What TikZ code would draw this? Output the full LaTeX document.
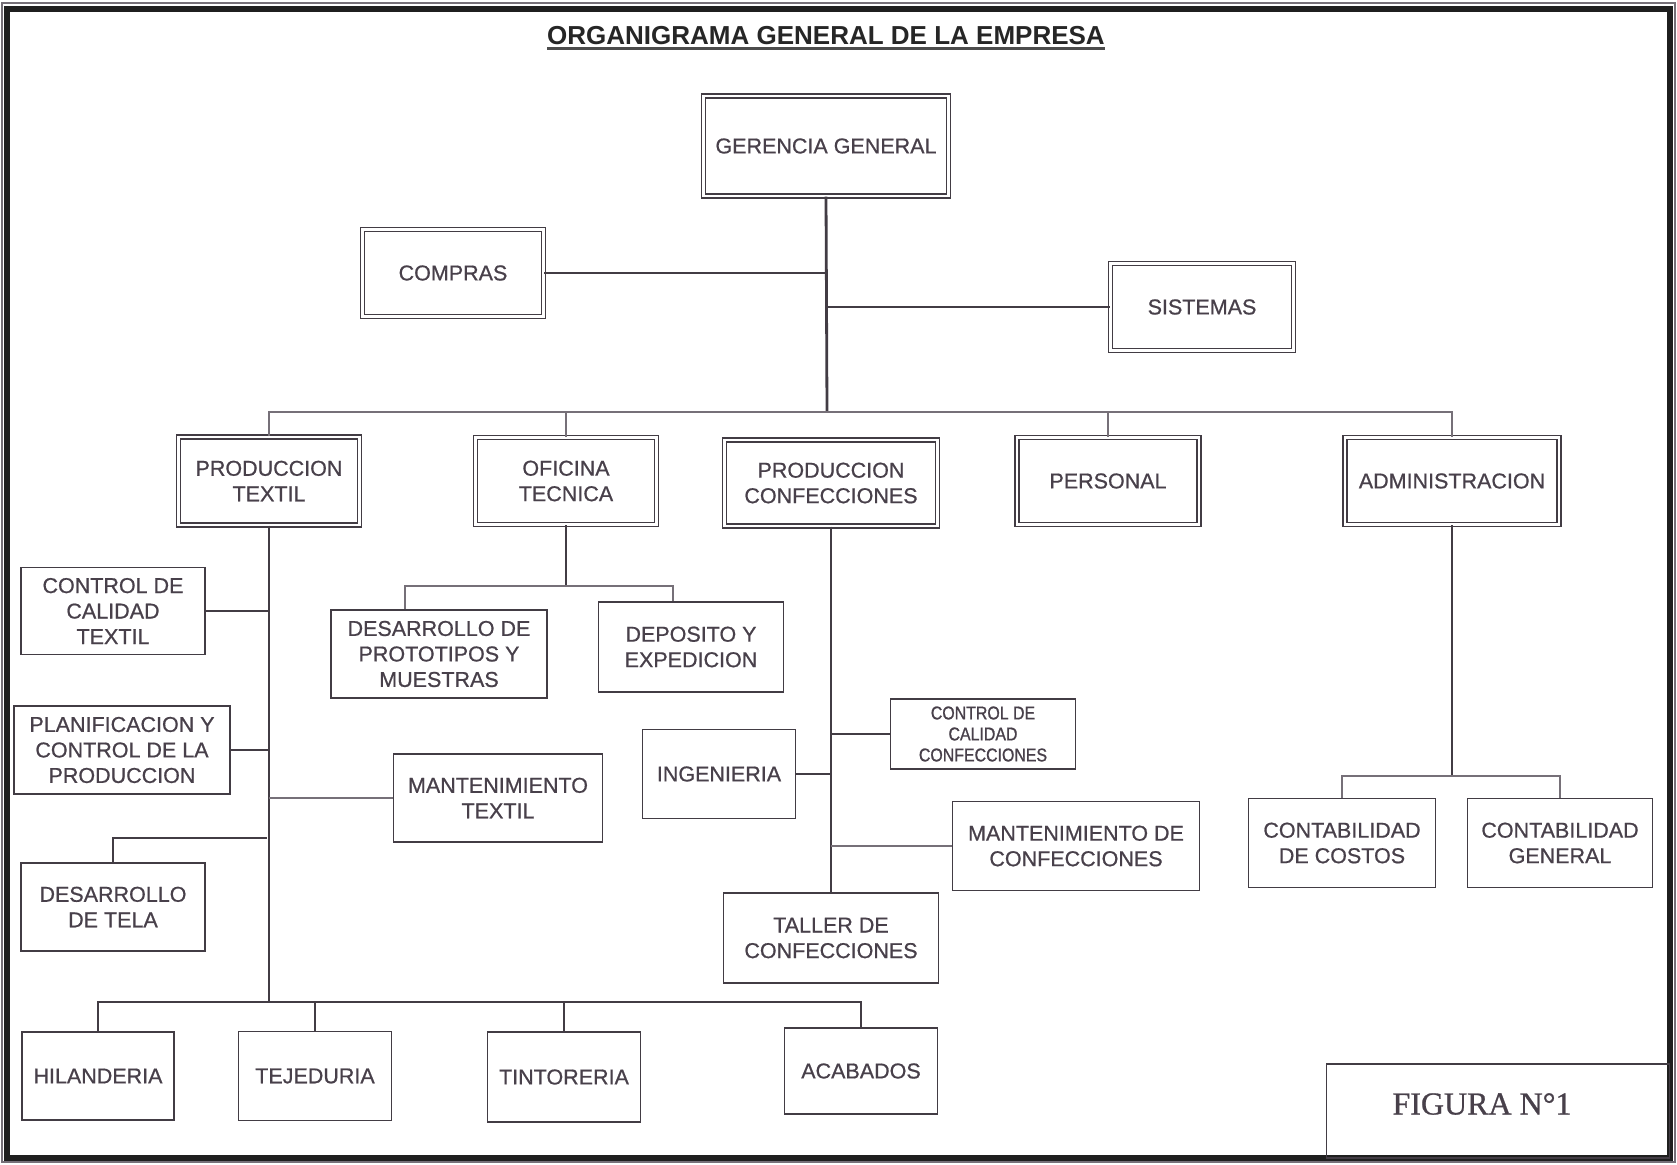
\documentclass[tikz,border=0pt]{standalone}
\usepackage{fontspec}
\setmainfont[FakeBold=0.7]{Liberation Sans}
\newfontfamily\titlefont{Liberation Sans}
\newfontfamily\figfont[FakeBold=0.8]{Liberation Serif}
\newfontfamily\narrowfont[FakeStretch=0.86,FakeBold=1.0]{Liberation Sans}
\definecolor{tc}{RGB}{72,64,74}
\definecolor{lc}{RGB}{66,60,68}
\definecolor{lg}{RGB}{118,112,120}
\begin{document}
\begin{tikzpicture}[x=1pt,y=-1pt,
  box/.style={draw=lc, line width=1.8pt, fill=white, text=tc, align=center, inner sep=0pt,
              font=\fontsize{21.5}{25.5}\selectfont},
  dbox/.style={box, double=white, double distance=2.4pt, line width=1.4pt},
  ccbox/.style={box, font=\narrowfont\fontsize{18.5}{21}\selectfont},
  figbox/.style={draw=lc, line width=1.8pt, inner sep=0pt},
  wire/.style={draw=lc, line width=1.6pt},
  lwire/.style={draw=lg, line width=1.6pt},
  heavy/.style={draw=lc, line width=2.8pt}
]
\useasboundingbox (0,0) rectangle (1677,1164);
\fill[white] (0,0) rectangle (1677,1164);
% frame
\draw[lg, line width=1.2pt] (2,3) rectangle (1675,1162);
\draw[black!88, line width=6pt] (7,9) rectangle (1670,1158);

% title
\node[text=black!85, inner sep=0pt, font=\titlefont\bfseries\fontsize{26}{30}\selectfont] (title) at (826,36) {ORGANIGRAMA GENERAL DE LA EMPRESA};
\draw[black!70, line width=2.4pt] ([yshift=-3.5pt]title.base west) -- ([yshift=-3.5pt]title.base east);

% level 0 / 1
\node[dbox, minimum width=245pt, minimum height=100pt] (gg) at (826,146) {GERENCIA GENERAL};
\node[dbox, minimum width=181pt, minimum height=87pt] (compras) at (453,273) {COMPRAS};
\node[dbox, minimum width=183pt, minimum height=87pt] (sistemas) at (1202,307) {SISTEMAS};

\node[dbox, minimum width=181pt, minimum height=88pt] (pt) at (269,481) {PRODUCCION\\TEXTIL};
\node[dbox, minimum width=181pt, minimum height=87pt] (ot) at (566,481) {OFICINA\\TECNICA};
\node[dbox, minimum width=213pt, minimum height=86pt] (pc) at (831,483) {PRODUCCION\\CONFECCIONES};
\node[dbox, minimum width=182pt, minimum height=87pt] (pers) at (1108,481) {PERSONAL};
\node[dbox, minimum width=214pt, minimum height=87pt] (adm) at (1452,481) {ADMINISTRACION};

% under produccion textil
\node[box, minimum width=184pt, minimum height=87pt] (cct) at (113,611) {CONTROL DE\\CALIDAD\\TEXTIL};
\node[box, minimum width=216pt, minimum height=88pt] (pcp) at (122,750) {PLANIFICACION Y\\CONTROL DE LA\\PRODUCCION};
\node[box, minimum width=209pt, minimum height=88pt] (mt) at (498,798) {MANTENIMIENTO\\TEXTIL};
\node[box, minimum width=184pt, minimum height=88pt] (dt) at (113,907) {DESARROLLO\\DE TELA};
\node[box, minimum width=152pt, minimum height=88pt] (hil) at (98,1076) {HILANDERIA};
\node[box, minimum width=153pt, minimum height=89pt] (tej) at (315,1076) {TEJEDURIA};
\node[box, minimum width=153pt, minimum height=90pt] (tin) at (564,1077) {TINTORERIA};
\node[box, minimum width=153pt, minimum height=86pt] (aca) at (861,1071) {ACABADOS};

% under oficina tecnica
\node[box, minimum width=216pt, minimum height=88pt] (dpm) at (439,654) {DESARROLLO DE\\PROTOTIPOS Y\\MUESTRAS};
\node[box, minimum width=185pt, minimum height=90pt] (dep) at (691,647) {DEPOSITO Y\\EXPEDICION};

% under produccion confecciones
\node[ccbox, minimum width=185pt, minimum height=70pt] (ccc) at (983,734) {CONTROL DE\\CALIDAD\\CONFECCIONES};
\node[box, minimum width=153pt, minimum height=89pt] (ing) at (719,774) {INGENIERIA};
\node[box, minimum width=247pt, minimum height=89pt] (mdc) at (1076,846) {MANTENIMIENTO DE\\CONFECCIONES};
\node[box, minimum width=215pt, minimum height=90pt] (tdc) at (831,938) {TALLER DE\\CONFECCIONES};

% under administracion
\node[box, minimum width=187pt, minimum height=89pt] (cc) at (1342,843) {CONTABILIDAD\\DE COSTOS};
\node[box, minimum width=185pt, minimum height=89pt] (cg) at (1560,843) {CONTABILIDAD\\GENERAL};

% figure label
\node[figbox, minimum width=343pt, minimum height=94pt] (fig) at (1498,1111) {};
\node[text=tc, inner sep=0pt, font=\figfont\fontsize{32}{36}\selectfont] (figt) at (1482,1104) {FIGURA N°1};

% coordinates of junctions
\coordinate (bus) at (827,412);
\coordinate (bb) at (267,1002);
\coordinate (otb) at (566,586);
\coordinate (ab) at (1452,776);
\coordinate (dtj) at (267,838);

% main trunk
\draw[heavy] (gg.south) -- (bus);
\draw[wire] (compras.east) -- (compras.east -| bus);
\draw[wire] (sistemas.west) -- (sistemas.west -| bus);
\draw[lwire] (pt.north) -- (pt.north |- bus) -- (adm.north |- bus) -- (adm.north);
\draw[lwire] (ot.north) -- (ot.north |- bus);
\draw[lwire] (pers.north) -- (pers.north |- bus);

% produccion textil
\draw[heavy] (pt.south) -- (pt.south |- bb);
\draw[heavy] (cct.east) -- (cct.east -| pt.south);
\draw[heavy] (pcp.east) -- (pcp.east -| pt.south);
\draw[lwire] (mt.west) -- (mt.west -| pt.south);
\draw[wire] (dt.north) |- (dtj);
\draw[heavy] (hil.north) -- (hil.north |- bb) -- (aca.north |- bb) -- (aca.north);
\draw[wire] (tej.north) -- (tej.north |- bb);
\draw[wire] (tin.north) -- (tin.north |- bb);

% oficina tecnica
\draw[wire] (ot.south) -- (otb);
\draw[lwire] ([xshift=-34pt]dpm.north) |- (otb) -| ([xshift=-18pt]dep.north);

% produccion confecciones
\draw[heavy] (pc.south) -- (pc.south |- ccc.west);
\draw[wire] (pc.south |- ccc.west) -- (tdc.north);
\draw[wire] (ccc.west) -- (ccc.west -| pc.south);
\draw[wire] (ing.east) -- (ing.east -| pc.south);
\draw[lwire] (mdc.west) -- (mdc.west -| pc.south);

% administracion
\draw[wire] (adm.south) -- (ab);
\draw[lwire] (cc.north) |- (ab) -| (cg.north);
\end{tikzpicture}
\end{document}
